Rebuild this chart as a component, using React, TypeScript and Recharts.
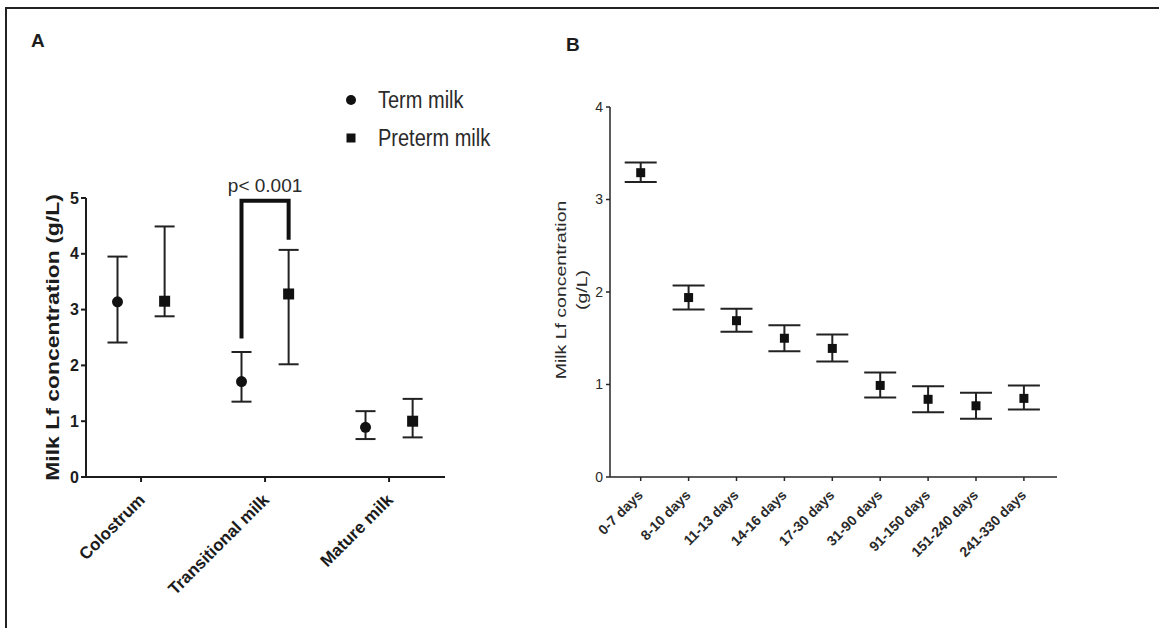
import React from 'react';
import {
  ScatterChart,
  Scatter,
  XAxis,
  YAxis,
  ErrorBar,
  ReferenceDot,
  Label
} from 'recharts';

// Panel A: Lf by milk stage, term vs preterm
const milkStages = ['Colostrum', 'Transitional milk', 'Mature milk'];
const termMean = [3.14, 1.71, 0.89];
const termLow = [2.41, 1.35, 0.68];
const termHigh = [3.95, 2.24, 1.18];
const pretermMean = [3.15, 3.28, 1.0];
const pretermLow = [2.88, 2.02, 0.71];
const pretermHigh = [4.49, 4.07, 1.4];
const legendLabels = ['Term milk', 'Preterm milk'];
const ticksA = [0, 1, 2, 3, 4, 5];

// significance bracket over transitional milk
const bracketStage = 1;
const bracketLevels = [2.48, 4.95, 4.95, 4.25];
const pLabel = 'p< 0.001';

// Panel B: Lf by lactation period
const ageGroups = [
  '0-7 days', '8-10 days', '11-13 days', '14-16 days', '17-30 days',
  '31-90 days', '91-150 days', '151-240 days', '241-330 days'
];
const lfMean = [3.29, 1.94, 1.69, 1.5, 1.39, 0.99, 0.84, 0.77, 0.85];
const lfLow = [3.19, 1.81, 1.57, 1.36, 1.25, 0.86, 0.7, 0.63, 0.73];
const lfHigh = [3.4, 2.07, 1.82, 1.64, 1.54, 1.13, 0.98, 0.91, 0.99];
const ticksB = [0, 1, 2, 3, 4];

const FONT = '"Liberation Sans", Arial, Helvetica, sans-serif';
const INK = '#1c1c1c';
const SHIFT = 0.19;

const termData = milkStages.map((_, i) => ({
  x: i - SHIFT,
  y: termMean[i],
  err: [termMean[i] - termLow[i], termHigh[i] - termMean[i]]
}));
const pretermData = milkStages.map((_, i) => ({
  x: i + SHIFT,
  y: pretermMean[i],
  err: [pretermMean[i] - pretermLow[i], pretermHigh[i] - pretermMean[i]]
}));
const bracketData = bracketLevels.map((y, i) => ({
  x: i < 2 ? bracketStage - SHIFT : bracketStage + SHIFT,
  y
}));
const periodData = ageGroups.map((_, i) => ({
  x: i,
  y: lfMean[i],
  err: [lfMean[i] - lfLow[i], lfHigh[i] - lfMean[i]]
}));

const StageTick = ({ x, y, payload }: any) => (
  <g transform={`translate(${x + 5},${y + 17}) rotate(-45)`}>
    <text textAnchor="end" fontSize={17} fontWeight="bold" fill={INK} fontFamily={FONT}>
      {milkStages[payload.value]}
    </text>
  </g>
);

const AgeTick = ({ x, y, payload }: any) => (
  <g transform={`translate(${x + 3},${y + 13}) rotate(-45)`}>
    <text textAnchor="end" fontSize={14} fontWeight="bold" fill="#2a2a2a" fontFamily={FONT}>
      {ageGroups[payload.value]}
    </text>
  </g>
);

function PanelA() {
  return (
    <ScatterChart width={560} height={628} margin={{ top: 198, right: 115, bottom: 51, left: 36 }}>
      <XAxis
        type="number"
        dataKey="x"
        domain={[-0.444, 2.451]}
        ticks={[0, 1, 2]}
        allowDataOverflow
        height={100}
        stroke={INK}
        strokeWidth={2}
        tickSize={5}
        tick={<StageTick />}
      />
      <YAxis
        type="number"
        dataKey="y"
        domain={[0, 5]}
        ticks={ticksA}
        width={50}
        stroke={INK}
        strokeWidth={2}
        tickSize={5}
        tickMargin={2}
        tick={{ fontSize: 16, fontWeight: 'bold', fill: INK, fontFamily: FONT }}
      >
        <Label
          content={({ viewBox }: any) => (
            <text
              transform={`translate(${viewBox.x + 16},${viewBox.y + viewBox.height / 2}) rotate(-90) scale(1.24,1)`}
              textAnchor="middle"
              dominantBaseline="central"
              fontSize={18.5}
              fontWeight="bold"
              fill={INK}
              fontFamily={FONT}
            >
              Milk Lf concentration (g/L)
            </text>
          )}
        />
      </YAxis>
      <Scatter
        data={bracketData}
        line={{ stroke: '#111', strokeWidth: 4 }}
        shape={() => <g />}
        legendType="none"
        isAnimationActive={false}
      />
      <Scatter
        data={termData}
        isAnimationActive={false}
        shape={(p: any) => <circle cx={p.cx} cy={p.cy} r={5.5} fill="#111" />}
      >
        <ErrorBar dataKey="err" direction="y" width={10} strokeWidth={2} stroke="#222" isAnimationActive={false} />
      </Scatter>
      <Scatter
        data={pretermData}
        isAnimationActive={false}
        shape={(p: any) => <rect x={p.cx - 5.5} y={p.cy - 5.5} width={11} height={11} fill="#111" />}
      >
        <ErrorBar dataKey="err" direction="y" width={10} strokeWidth={2} stroke="#222" isAnimationActive={false} />
      </Scatter>
      <ReferenceDot
        x={bracketStage}
        y={bracketLevels[1]}
        r={1}
        fill="none"
        stroke="none"
        ifOverflow="visible"
        label={{ value: pLabel, position: 'top', offset: 8, fontSize: 19, fill: '#2a2a2a', fontFamily: FONT }}
      />
    </ScatterChart>
  );
}

function PanelB() {
  return (
    <ScatterChart width={619} height={628} margin={{ top: 107, right: 102, bottom: 51, left: 20 }}>
      <XAxis
        type="number"
        dataKey="x"
        domain={[-0.641, 8.691]}
        ticks={ageGroups.map((_, i) => i)}
        allowDataOverflow
        height={100}
        stroke="#262626"
        strokeWidth={1.5}
        tickSize={4}
        tick={<AgeTick />}
      />
      <YAxis
        type="number"
        dataKey="y"
        domain={[0, 4]}
        ticks={ticksB}
        width={50}
        stroke="#262626"
        strokeWidth={1.5}
        tickSize={4}
        tickMargin={3}
        tick={{ fontSize: 14, fill: '#2a2a2a', fontFamily: FONT }}
      >
        <Label
          content={({ viewBox }: any) => {
            const cy = viewBox.y + viewBox.height / 2 - 2;
            return (
              <g fontFamily={FONT} fill="#2a2a2a" fontSize={15}>
                <text
                  transform={`translate(${viewBox.x + 1},${cy}) rotate(-90) scale(1.3,1)`}
                  textAnchor="middle"
                  dominantBaseline="central"
                >
                  Milk Lf concentration
                </text>
                <text
                  transform={`translate(${viewBox.x + 22},${cy}) rotate(-90) scale(1.3,1)`}
                  textAnchor="middle"
                  dominantBaseline="central"
                >
                  (g/L)
                </text>
              </g>
            );
          }}
        />
      </YAxis>
      <Scatter
        data={periodData}
        isAnimationActive={false}
        shape={(p: any) => <rect x={p.cx - 4.5} y={p.cy - 4.5} width={9} height={9} fill="#111" />}
      >
        <ErrorBar dataKey="err" direction="y" width={16} strokeWidth={2} stroke="#222" isAnimationActive={false} />
      </Scatter>
    </ScatterChart>
  );
}

export default function App() {
  return (
    <div
      style={{
        position: 'absolute',
        left: 0,
        top: 0,
        width: 1159,
        height: 628,
        background: '#fff',
        overflow: 'hidden',
        fontFamily: FONT
      }}
    >
      <div
        style={{
          position: 'absolute',
          left: 5,
          top: 7,
          width: 1200,
          height: 700,
          borderTop: '2px solid #222',
          borderLeft: '2px solid #222'
        }}
      />
      <div style={{ position: 'absolute', left: 0, top: 0 }}>
        <PanelA />
      </div>
      <div style={{ position: 'absolute', left: 540, top: 0 }}>
        <PanelB />
      </div>
      <div style={{ position: 'absolute', left: 31, top: 30, fontSize: 19, fontWeight: 'bold', color: INK }}>A</div>
      <div style={{ position: 'absolute', left: 566, top: 34, fontSize: 19, fontWeight: 'bold', color: INK }}>B</div>
      {legendLabels.map((name, i) => (
        <div
          key={name}
          style={{
            position: 'absolute',
            left: 344,
            top: 88 + i * 38,
            height: 24,
            display: 'flex',
            alignItems: 'center',
            fontSize: 20,
            color: '#2a2a2a'
          }}
        >
          <svg width={14} height={14} style={{ marginRight: 20 }}>
            {i === 0 ? (
              <circle cx={7} cy={7} r={5} fill="#111" />
            ) : (
              <rect x={2.5} y={2.5} width={9} height={9} fill="#111" />
            )}
          </svg>
          <span style={{ display: 'inline-block', transform: 'scaleY(1.15)' }}>{name}</span>
        </div>
      ))}
    </div>
  );
}
